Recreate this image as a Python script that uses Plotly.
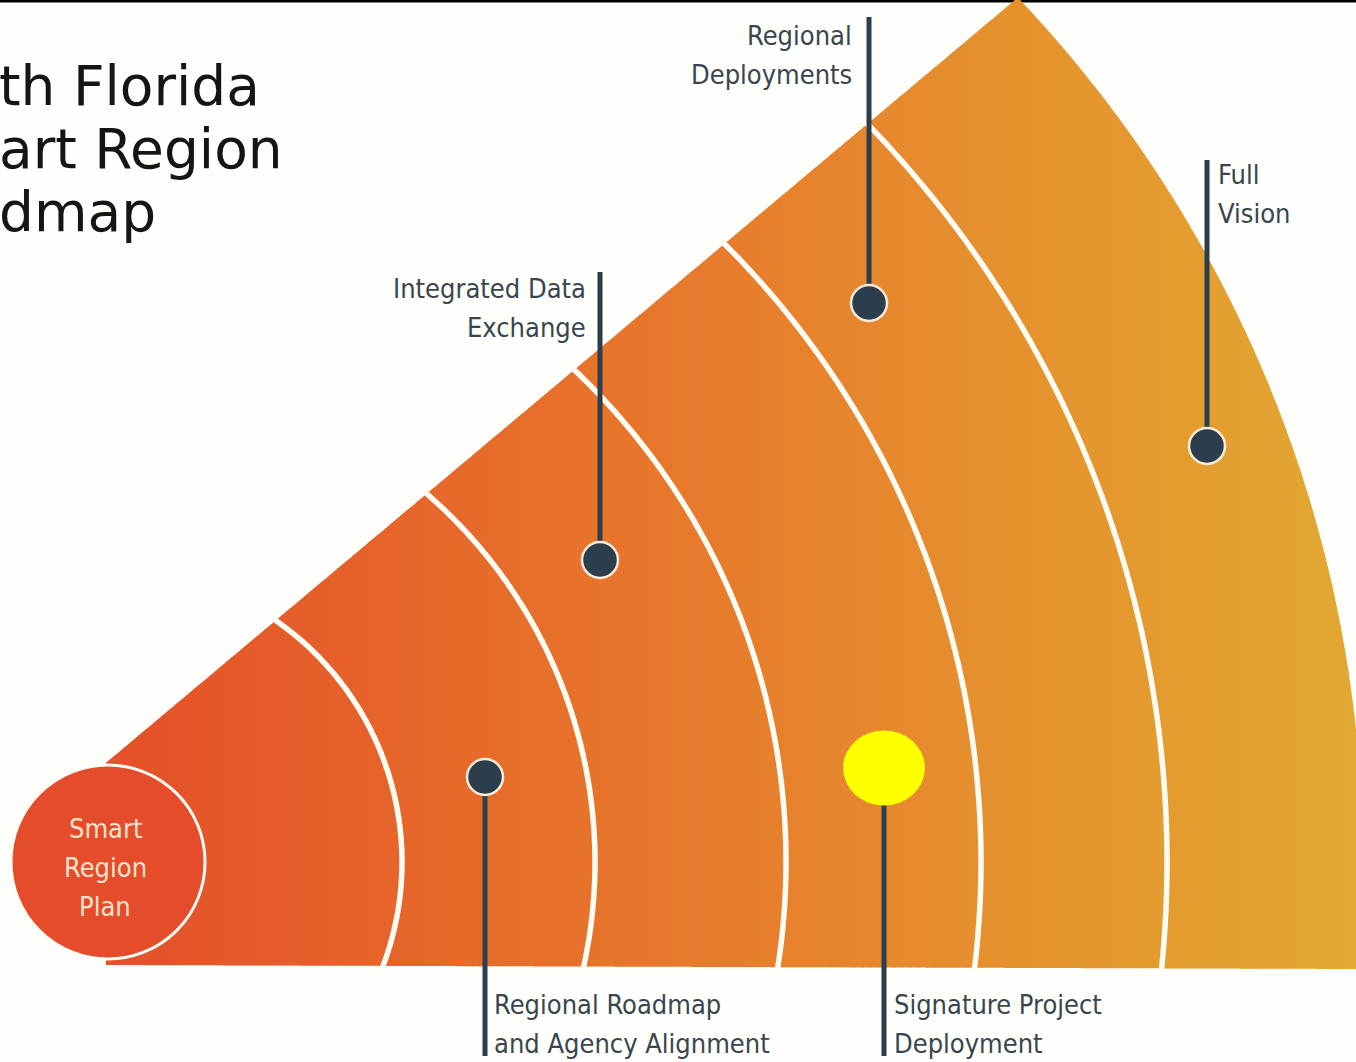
import numpy as np
import plotly.graph_objects as go

# ---------------- content (text) ----------------
# the title is shown cut off by the left edge in the reference; only the visible part is kept
title_lines = ["th Florida", "art Region", "dmap"]
center_label = ["Smart", "Region", "Plan"]
stage_labels = [
    ["Regional Roadmap", "and Agency Alignment"],
    ["Integrated Data", "Exchange"],
    ["Signature Project", "Deployment"],
    ["Regional", "Deployments"],
    ["Full", "Vision"],
]

# ---------------- layout constants (pixels) ----------------
W, H = 1356, 1062
BG = "#FEFEFB"
CX, CY = 108, 862           # centre of the hub circle and of all arcs
R_HUB = 97
RING_R = [294, 487, 678, 873, 1059]
R_OUT = 1255
TOP_A, TOP_B = (107, 762), (1015, 0)
BOT_A, BOT_B = (105, 965), (1356, 969)
LINE_GAP = 39

# gradient stops (x, rgb)
GRAD = [(110, (228, 80, 42)), (390, (230, 100, 42)), (580, (231, 114, 43)),
        (780, (231, 128, 44)), (975, (229, 143, 46)), (1165, (228, 155, 47)),
        (1356, (226, 168, 50))]

DARK = "#2C3E4C"
TEXT = "#39454F"
CREAM = "#FFFCF4"
LABEL_FONT = "DejaVu Sans Condensed, Liberation Sans Narrow, Arial Narrow, sans-serif"

# pins: (x, pin_y, stem_end_y, label_x, first_line_y, anchor, stage_index, yellow)
PINS = [
    (485, 777, 1056, 492, 1004, "left", 0, False),
    (600, 560, 272, 588, 288, "right", 1, False),
    (884, 768, 1056, 892, 1004, "left", 2, True),
    (869, 303, 17, 854, 35, "right", 3, False),
    (1207, 446, 160, 1216, 174, "left", 4, False),
]


def lin(a, b, x):
    return a[1] + (b[1] - a[1]) * (x - a[0]) / (b[0] - a[0])


def top_y(x):
    return lin(TOP_A, TOP_B, x)


def bot_y(x):
    return lin(BOT_A, BOT_B, x)


def fan_top(x):
    dx = x - CX
    ya = CY - np.sqrt(max(R_OUT ** 2 - dx ** 2, 0))
    return max(top_y(x), ya)


def fan_bot(x):
    dx = x - CX
    yb = CY + np.sqrt(max(R_OUT ** 2 - dx ** 2, 0))
    return min(bot_y(x), yb)


def grad_color(x):
    xs = [g[0] for g in GRAD]
    rgb = [int(round(np.interp(x, xs, [g[1][i] for g in GRAD]))) for i in range(3)]
    return "rgb(%d,%d,%d)" % tuple(rgb)


shapes = []

# top black rule
shapes.append(dict(type="rect", x0=0, x1=W, y0=0, y1=2.5, fillcolor="#000000",
                   line=dict(width=0), layer="below"))

# gradient fan made of vertical strips
edges = np.linspace(106, W, 158)
for k in range(len(edges) - 1):
    x0 = edges[k]
    x1 = min(edges[k + 1] + 1.0, W)
    sx = np.linspace(x0, x1, 6)
    tops = [fan_top(x) for x in sx]
    bots = [fan_bot(x) for x in sx]
    if all(t >= b for t, b in zip(tops, bots)):
        continue
    pts = [(x, t) for x, t in zip(sx, tops)] + [(x, b) for x, b in zip(sx[::-1], bots[::-1])]
    path = "M " + " L ".join("%.2f,%.2f" % p for p in pts) + " Z"
    shapes.append(dict(type="path", path=path, fillcolor=grad_color((x0 + x1) / 2),
                       line=dict(width=0), layer="below"))


def bisect(f, a, b, n=60):
    fa = f(a)
    for _ in range(n):
        m = (a + b) / 2
        fm = f(m)
        if (fm > 0) == (fa > 0):
            a, fa = m, fm
        else:
            b = m
    return (a + b) / 2


# white arcs
for r in RING_R:
    px = lambda t: CX + r * np.cos(t)
    py = lambda t: CY - r * np.sin(t)
    t_top = bisect(lambda t: py(t) - top_y(px(t)), 0.0, np.pi / 2)
    t_bot = bisect(lambda t: py(t) - bot_y(px(t)), -np.pi / 2, 0.0)
    d = 4.0 / r
    ts = np.linspace(t_bot - d, t_top + d, 120)
    path = "M " + " L ".join("%.2f,%.2f" % (px(t), py(t)) for t in ts)
    shapes.append(dict(type="path", path=path, line=dict(color=CREAM, width=5.5)))

# hub circle
shapes.append(dict(type="circle", x0=CX - R_HUB, x1=CX + R_HUB, y0=CY - R_HUB, y1=CY + R_HUB,
                   fillcolor="#E44C2B", line=dict(color=CREAM, width=3)))

annotations = []


def add_lines(lines, x, y_first, anchor, font):
    for i, t in enumerate(lines):
        annotations.append(dict(x=x, y=y_first + i * LINE_GAP, xref="x", yref="y",
                                xanchor=anchor, yanchor="middle", align=anchor,
                                showarrow=False, text=t, font=font))


# pins
for (x, py_, yend, lx, ly, anchor, si, yellow) in PINS:
    shapes.append(dict(type="line", x0=x, x1=x, y0=py_, y1=yend, line=dict(color=DARK, width=5)))
    if yellow:
        shapes.append(dict(type="circle", x0=x - 41, x1=x + 41, y0=py_ - 37.5, y1=py_ + 37.5,
                           fillcolor="#FFFF00", line=dict(width=0)))
    else:
        shapes.append(dict(type="circle", x0=x - 18, x1=x + 18, y0=py_ - 18, y1=py_ + 18,
                           fillcolor=DARK, line=dict(color="#FBEBDD", width=2.5)))
    add_lines(stage_labels[si], lx, ly, anchor,
              dict(family=LABEL_FONT, size=27, color=TEXT))

# hub label
add_lines(center_label, CX - 3, 828, "center",
          dict(family=LABEL_FONT, size=27, color="#FCE3CE"))

# title fragments (left edge of the picture)
title_y = [86, 149, 212]
for t, yy in zip(title_lines, title_y):
    annotations.append(dict(x=0.5, y=yy, xref="x", yref="y", xanchor="left", yanchor="middle",
                            xshift=-4, showarrow=False, text=t,
                            font=dict(family="DejaVu Sans", size=55, color="#151515")))

fig = go.Figure()
fig.update_layout(
    width=W, height=H, margin=dict(l=0, r=0, t=0, b=0),
    paper_bgcolor=BG, plot_bgcolor=BG, showlegend=False,
    xaxis=dict(range=[0, W], visible=False, fixedrange=True),
    yaxis=dict(range=[H, 0], visible=False, fixedrange=True),
    shapes=shapes, annotations=annotations,
)
fig.write_html("out.html", config={"displayModeBar": False},
               post_script="document.body.style.margin='0';document.body.style.overflow='hidden';")
